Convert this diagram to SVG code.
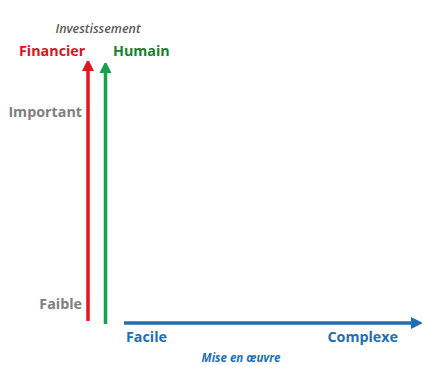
<svg xmlns="http://www.w3.org/2000/svg" width="422" height="365" viewBox="0 0 422 365">
<style>
text{font-family:"Open Sans","Liberation Sans",sans-serif;font-weight:bold}
.g{fill:#7f7f7f;font-size:14.3px}
.it{font-style:italic;font-size:12.5px}
.b{fill:#1f6fb4;font-size:14.3px}
</style>
<defs>
<marker id="ar" markerWidth="10" markerHeight="12" refX="1" refY="6" orient="auto" markerUnits="userSpaceOnUse"><path d="M0,0 L12,6 L0,12 Z" fill="#e4141e"/></marker>
<marker id="ag" markerWidth="10" markerHeight="12" refX="1" refY="6" orient="auto" markerUnits="userSpaceOnUse"><path d="M0,0 L12,6 L0,12 Z" fill="#17a04e"/></marker>
<marker id="ab" markerWidth="12" markerHeight="12" refX="1" refY="6" orient="auto" markerUnits="userSpaceOnUse"><path d="M0,0 L12,6 L0,12 Z" fill="#1f6fb4"/></marker>
</defs>
<g id="connectors">
<line x1="88" y1="321" x2="88" y2="70" stroke="#e4141e" stroke-width="3.5" marker-end="url(#ar)"/>
<line x1="105.5" y1="324" x2="105.5" y2="72" stroke="#17a04e" stroke-width="3.5" marker-end="url(#ag)"/>
<line x1="124" y1="323" x2="412" y2="323" stroke="#1f6fb4" stroke-width="3.5" marker-end="url(#ab)"/>
</g>
<g id="labels">
<text x="98" y="33" text-anchor="middle" class="it" style="fill:#595959;font-weight:600">Investissement</text>
<text x="19" y="56" fill="#d9141e" font-size="14.3">Financier</text>
<text x="113" y="56" fill="#17812f" font-size="14.3">Humain</text>
<text x="82" y="117" text-anchor="end" class="g">Important</text>
<text x="82" y="309" text-anchor="end" class="g">Faible</text>
<text x="126" y="342" class="b">Facile</text>
<text x="398" y="342" text-anchor="end" class="b">Complexe</text>
<text x="241" y="362" text-anchor="middle" class="b it" style="font-size:11.5px">Mise en œuvre</text>
</g>
</svg>
